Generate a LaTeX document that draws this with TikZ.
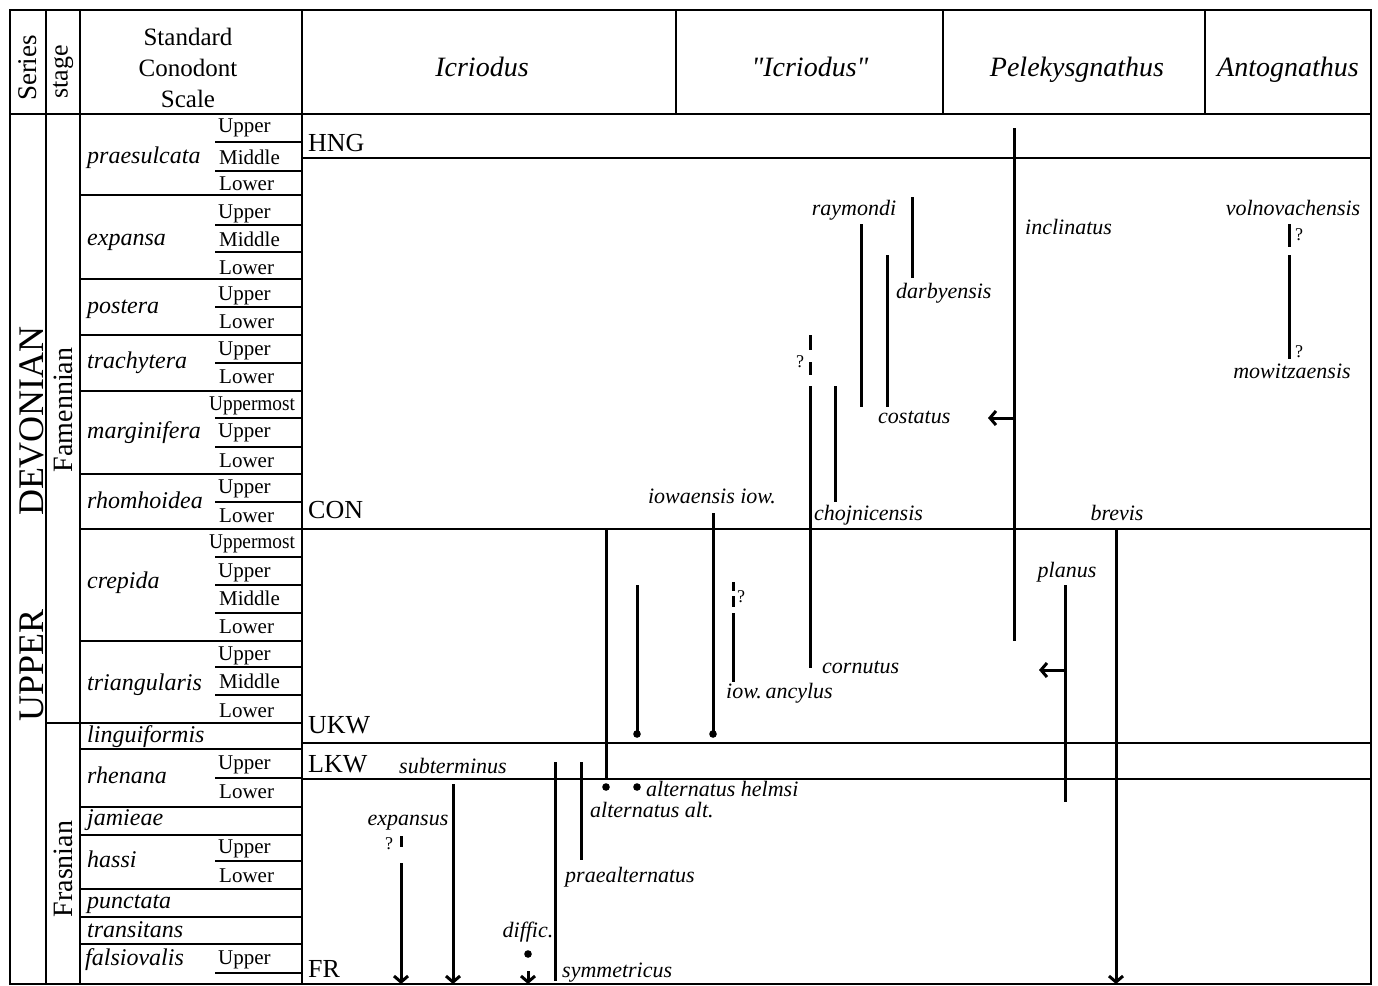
\documentclass[tikz,border=0pt]{standalone}
\usepackage{fontspec}
\setmainfont{Liberation Serif}
\newfontfamily\plainquotes{Liberation Serif}[Ligatures=TeXOff]
\usetikzlibrary{arrows.meta}
\begin{document}
\begin{tikzpicture}[x=1pt,y=-1pt,
  frame/.style={line width=2.8pt},
  hsep/.style={line width=2pt},
  sp/.style={line width=3pt},
  arr/.style={line width=3pt,-{Straight Barb[length=6pt,width=14pt]}},
  lbl/.style={inner sep=0pt,anchor=base west,font=\fontsize{22}{24}\selectfont\itshape},
  lblc/.style={inner sep=0pt,anchor=base,font=\fontsize{22}{24}\selectfont\itshape},
  sub/.style={inner sep=0pt,anchor=base west,font=\fontsize{21}{23}\selectfont},
  zone/.style={inner sep=0pt,anchor=base west,font=\fontsize{24}{26}\selectfont\itshape},
  hdr/.style={inner sep=0pt,anchor=base,font=\fontsize{28}{30}\selectfont\itshape},
  code/.style={inner sep=0pt,anchor=base west,font=\fontsize{26}{28}\selectfont},
  qm/.style={inner sep=0pt,anchor=base west,font=\fontsize{18}{20}\selectfont},
  dot/.style={fill=black}
]
\useasboundingbox (0,0) rectangle (1378,985);
% ---------- frame ----------
\draw[frame] (10,985) -- (10,10) -- (1371,10) -- (1371,985);
\draw[line width=1.2pt] (10,984) -- (1371,984);
\draw[frame] (46,10) -- (46,985);
\draw[frame] (80,10) -- (80,985);
\draw[frame] (302,10) -- (302,985);
\draw[frame] (10,114) -- (1371,114);
\draw[hsep] (676,10) -- (676,114);
\draw[hsep] (943,10) -- (943,114);
\draw[hsep] (1205,10) -- (1205,114);
\draw[frame] (46,723) -- (80,723);
\foreach \yy in {195,279,335,391,474,529,641,723,749,807,835,889,917,944}
  \draw[frame] (80,\yy) -- (302,\yy);
\foreach \yy in {142,171,225,252,307,363,418,447,502,557,585,613,667,695,778,861,973}
  \draw[frame] (215,\yy) -- (302,\yy);
\foreach \yy in {158,529,743,779}
  \draw[frame] (302,\yy) -- (1371,\yy);
% ---------- header ----------
\node[rotate=90,inner sep=0pt,font=\fontsize{27}{29}\selectfont] (series) at (28,68) {Series};
\node[rotate=90,inner sep=0pt,font=\fontsize{26}{28}\selectfont] (stage) at (63,72) {stage};
\node[inner sep=0pt,anchor=base,font=\fontsize{25}{27}\selectfont] (std1) at (188,45) {Standard};
\node[inner sep=0pt,anchor=base,font=\fontsize{25}{27}\selectfont] (std2) at (188,76) {Conodont};
\node[inner sep=0pt,anchor=base,font=\fontsize{25}{27}\selectfont] (std3) at (188,107) {Scale};
\node[hdr] (h1) at (482,76) {Icriodus};
\node[hdr] (h2) at (810,76) {\plainquotes\itshape "Icriodus"};
\node[hdr] (h3) at (1077,76) {Pelekysgnathus};
\node[hdr] (h4) at (1288,76) {Antognathus};
% ---------- series / stages ----------
\node[rotate=90,inner sep=0pt,font=\fontsize{36}{38}\selectfont] (devon) at (32,421) {DEVONIAN};
\node[rotate=90,inner sep=0pt,font=\fontsize{36}{38}\selectfont] (upper) at (32,665) {UPPER};
\node[rotate=90,inner sep=0pt,font=\fontsize{28}{30}\selectfont] (famen) at (63,410) {Famennian};
\node[rotate=90,inner sep=0pt,font=\fontsize{28}{30}\selectfont] (frasn) at (63,869) {Frasnian};
% ---------- zones ----------
\node[zone] (z1) at (87,163) {praesulcata};
\node[zone] (z2) at (87,245) {expansa};
\node[zone] (z3) at (87,313) {postera};
\node[zone] (z4) at (87,368) {trachytera};
\node[zone] (z5) at (87,438) {marginifera};
\node[zone] (z6) at (87,508) {rhomhoidea};
\node[zone] (z7) at (87,588) {crepida};
\node[zone] (z8) at (87,690) {triangularis};
\node[zone] (z9) at (87,742) {linguiformis};
\node[zone] (z10) at (87,783) {rhenana};
\node[zone] (z11) at (87,825) {jamieae};
\node[zone] (z12) at (87,867) {hassi};
\node[zone] (z13) at (87,908) {punctata};
\node[zone] (z14) at (87,937) {transitans};
\node[zone] (z15) at (85,965) {falsiovalis};
% ---------- sub-zones ----------
\node[sub] (s1) at (218,132) {Upper};
\node[sub] (s2) at (219,164) {Middle};
\node[sub] (s3) at (219,190) {Lower};
\node[sub] (s4) at (218,218) {Upper};
\node[sub] (s5) at (219,246) {Middle};
\node[sub] (s6) at (219,274) {Lower};
\node[sub] (s7) at (218,300) {Upper};
\node[sub] (s8) at (219,328) {Lower};
\node[sub] (s9) at (218,355) {Upper};
\node[sub] (s10) at (219,383) {Lower};
\node[sub,xscale=0.92] (s11) at (209,410) {Uppermost};
\node[sub] (s12) at (218,437) {Upper};
\node[sub] (s13) at (219,467) {Lower};
\node[sub] (s14) at (218,493) {Upper};
\node[sub] (s15) at (219,522) {Lower};
\node[sub,xscale=0.92] (s16) at (209,548) {Uppermost};
\node[sub] (s17) at (218,577) {Upper};
\node[sub] (s18) at (219,605) {Middle};
\node[sub] (s19) at (219,633) {Lower};
\node[sub] (s20) at (218,660) {Upper};
\node[sub] (s21) at (219,688) {Middle};
\node[sub] (s22) at (219,717) {Lower};
\node[sub] (s23) at (218,769) {Upper};
\node[sub] (s24) at (219,798) {Lower};
\node[sub] (s25) at (218,853) {Upper};
\node[sub] (s26) at (219,882) {Lower};
\node[sub] (s27) at (218,964) {Upper};
% ---------- boundary codes ----------
\node[code] (hng) at (308,151) {HNG};
\node[code] (con) at (308,518) {CON};
\node[code] (ukw) at (308,733) {UKW};
\node[code] (lkw) at (308,772) {LKW};
\node[code] (fr) at (308,977) {FR};
% ---------- Icriodus ----------
\coordinate (a1t) at (606,530); \coordinate (a1b) at (606,779);
\draw[sp] (a1t) -- (a1b);
\fill[dot] (606,787) circle (3.8);
\fill[dot] (637,787) circle (3.8);
\node[lbl] (helmsi) at (646,796) {alternatus helmsi};
\node[lbl] (altalt) at (590,817) {alternatus alt.};
\coordinate (a2t) at (637,585); \coordinate (a2b) at (637,734);
\draw[sp] (a2t) -- (a2b);
\fill[dot] (a2b) circle (3.8);
\coordinate (a3t) at (713,513); \coordinate (a3b) at (713,734);
\draw[sp] (a3t) -- (a3b);
\fill[dot] (a3b) circle (3.8);
\node[lblc] (iowiow) at (712,503) {iowaensis iow.};
\draw[sp] (733,582) -- (733,591);
\draw[sp] (733,596) -- (733,607);
\draw[sp] (733,613) -- (733,682);
\node[qm] (q1) at (737,602) {?};
\node[lbl] (ancylus) at (726,698) {iow.\,ancylus};
% expansus
\draw[sp] (401,836) -- (401,847);
\coordinate (expt) at (401,863); \coordinate (expb) at (401,984);
\draw[arr] (expt) -- (expb);
\node[qm] (q2) at (385,849) {?};
\node[lblc] (expansus) at (408,825) {expansus};
% subterminus
\coordinate (subt) at (453,784); \coordinate (subb) at (453,984);
\draw[arr] (subt) -- (subb);
\node[lblc] (subterm) at (453,773) {subterminus};
% difficilis
\node[lblc] (diffic) at (528,937) {diffic.};
\fill[dot] (528,954) circle (3.8);
\coordinate (dift) at (528,971); \coordinate (difb) at (528,984);
\draw[arr] (dift) -- (difb);
% symmetricus
\coordinate (symt) at (555,762); \coordinate (symb) at (555,981);
\draw[sp] (symt) -- (symb);
\node[lbl] (symm) at (562,977) {symmetricus};
% praealternatus
\coordinate (prt) at (581,762); \coordinate (prb) at (581,860);
\draw[sp] (prt) -- (prb);
\node[lbl] (praealt) at (565,882) {praealternatus};
% ---------- "Icriodus" ----------
\draw[sp] (810,335) -- (810,350);
\draw[sp] (810,362) -- (810,375);
\coordinate (cort) at (810,386); \coordinate (corb) at (810,668);
\draw[sp] (cort) -- (corb);
\node[qm] (q3) at (796,367) {?};
\node[lbl] (cornutus) at (822,673) {cornutus};
\coordinate (chot) at (835,386); \coordinate (chob) at (835,502);
\draw[sp] (chot) -- (chob);
\node[lbl] (choj) at (814,520) {chojnicensis};
\coordinate (rayt) at (861,224); \coordinate (rayb) at (861,407);
\draw[sp] (rayt) -- (rayb);
\node[lblc] (raym) at (854,215) {raymondi};
\coordinate (cost) at (887,255); \coordinate (cosb) at (887,407);
\draw[sp] (cost) -- (cosb);
\node[lbl] (costatus) at (878,423) {costatus};
\coordinate (dart) at (912,197); \coordinate (darb) at (912,278);
\draw[sp] (dart) -- (darb);
\node[lbl] (darby) at (896,298) {darbyensis};
% ---------- Pelekysgnathus ----------
\coordinate (inct) at (1014,128); \coordinate (incb) at (1014,641);
\draw[sp] (inct) -- (incb);
\node[lbl] (inclin) at (1025,234) {inclinatus};
\coordinate (incA) at (1014,418); \coordinate (costA) at (988,418);
\draw[arr] (incA) -- (costA);
\coordinate (plat) at (1065,585); \coordinate (plab) at (1065,802);
\draw[sp] (plat) -- (plab);
\node[lblc] (planus) at (1067,577) {planus};
\coordinate (plaA) at (1065,670); \coordinate (corA) at (1039,670);
\draw[arr] (plaA) -- (corA);
\coordinate (bret) at (1116,530); \coordinate (breb) at (1116,984);
\draw[arr] (bret) -- (breb);
\node[lblc] (brevis) at (1117,520) {brevis};
% ---------- Antognathus ----------
\node[lblc] (volno) at (1293,215) {volnovachensis};
\draw[sp] (1289,224) -- (1289,247);
\coordinate (mowt) at (1289,255); \coordinate (mowb) at (1289,359);
\draw[sp] (mowt) -- (mowb);
\node[qm] (q4) at (1295,240) {?};
\node[qm] (q5) at (1295,357) {?};
\node[lblc] (mowitz) at (1292,378) {mowitzaensis};
\end{tikzpicture}
\end{document}
